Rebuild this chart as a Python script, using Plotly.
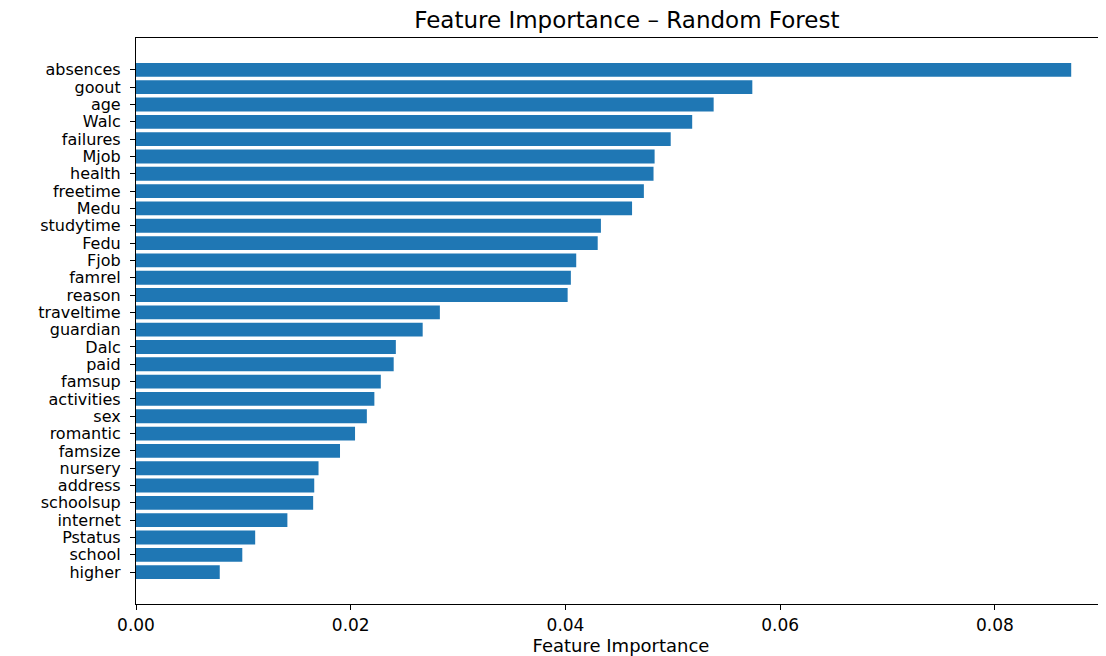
import plotly.graph_objects as go

features = ["absences", "goout", "age", "Walc", "failures", "Mjob", "health", "freetime",
            "Medu", "studytime", "Fedu", "Fjob", "famrel", "reason", "traveltime", "guardian",
            "Dalc", "paid", "famsup", "activities", "sex", "romantic", "famsize", "nursery",
            "address", "schoolsup", "internet", "Pstatus", "school", "higher"]
importance = [0.0871, 0.0574, 0.0538, 0.0518, 0.0498, 0.0483, 0.0482, 0.0473,
              0.0462, 0.0433, 0.0430, 0.0410, 0.0405, 0.0402, 0.0283, 0.0267,
              0.0242, 0.0240, 0.0228, 0.0222, 0.0215, 0.0204, 0.0190, 0.0170,
              0.0166, 0.0165, 0.0141, 0.0111, 0.0099, 0.0078]
x_ticks = [0.0, 0.02, 0.04, 0.06, 0.08]
x_tick_labels = ["0.00", "0.02", "0.04", "0.06", "0.08"]

# plot bottom-up (matplotlib barh order): least important at bottom
feat_rev = features[::-1]
imp_rev = importance[::-1]
ypos = list(range(len(feat_rev)))

font = "DejaVu Sans, Liberation Sans, sans-serif"

fig = go.Figure(go.Bar(
    x=imp_rev, y=ypos, orientation="h",
    marker=dict(color="#1f77b4", line=dict(width=0)),
    width=0.8,
))

fig.update_layout(
    width=1098, height=648,
    margin=dict(l=128, r=0, t=30, b=50),
    plot_bgcolor="white", paper_bgcolor="white",
    showlegend=False,
    font=dict(family=font, size=16, color="black"),
    title=dict(text="Feature Importance – Random Forest", x=0.506, xref="paper",
               xanchor="center", y=0.9815, yref="container", yanchor="middle",
               font=dict(size=23, family=font, color="black")),
)
fig.update_xaxes(
    range=[0, 0.09034], tickvals=x_ticks, ticktext=x_tick_labels,
    showgrid=False, zeroline=False, showline=True, linecolor="black", linewidth=1.2,
    mirror=True, ticks="outside", ticklen=5, tickcolor="black",
    tickfont=dict(size=17),
    title=dict(text="Feature Importance", font=dict(size=18), standoff=9),
)
fig.update_yaxes(
    range=[-1.84, len(feat_rev) - 1 + 1.84], tickvals=ypos, ticktext=feat_rev,
    showgrid=False, zeroline=False, showline=True, linecolor="black", linewidth=1.2,
    ticks="outside", ticklen=5, tickcolor="black", tickfont=dict(size=16),
    ticklabelstandoff=6,
)

fig.write_html("out.html")
